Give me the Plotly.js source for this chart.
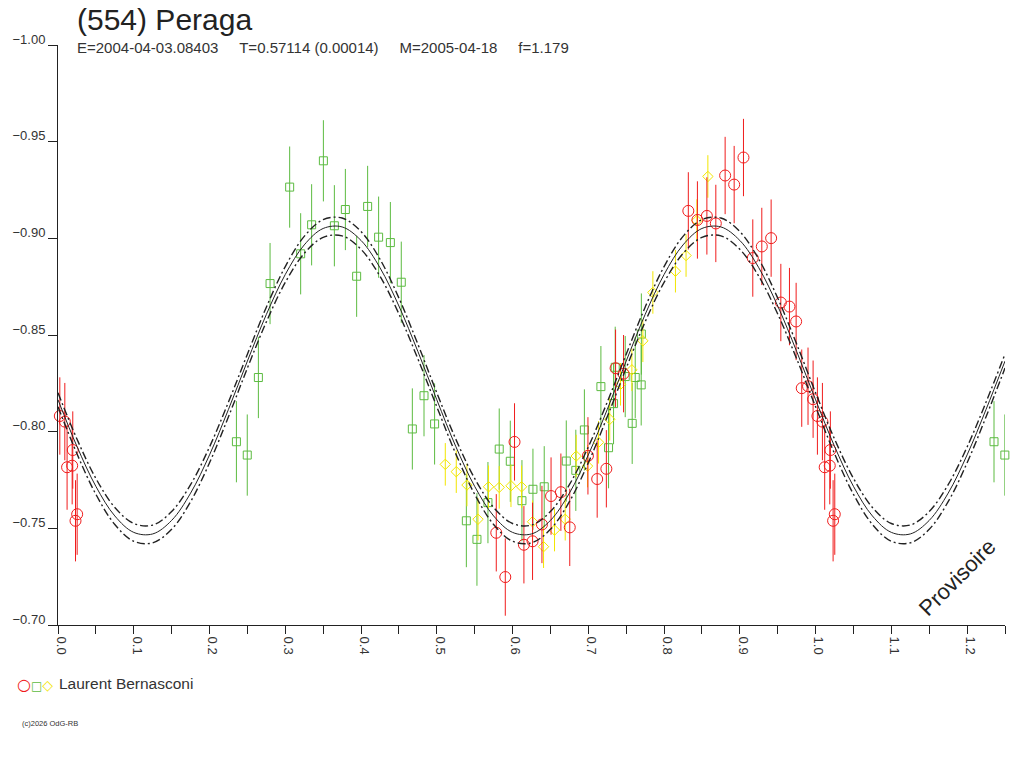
<!DOCTYPE html>
<html>
<head>
<meta charset="utf-8">
<script src="https://cdn.plot.ly/plotly-3.0.1.min.js"></script>
<style>
  html, body { margin: 0; padding: 0; background: #fff; }
  #chart { width: 1024px; height: 768px; }
</style>
</head>
<body>
<div id="chart"></div>
<script>
const redPhase = [0.0024, 0.0090, 0.0120, 0.0187, 0.0195, 0.0231, 0.0253,
  0.5785, 0.5904, 0.6026, 0.6150, 0.6264, 0.6388, 0.6508, 0.6638, 0.6755,
  0.6995, 0.7117, 0.7238, 0.7360, 0.7465, 0.8320, 0.8440, 0.8565, 0.8683,
  0.8806, 0.8925, 0.9048, 0.9171, 0.9290, 0.9413, 0.9541, 0.9655, 0.9743,
  0.9817, 0.9900, 0.9967];
const redMag = [-0.8081, -0.8052, -0.7816, -0.7824, -0.7905, -0.7539, -0.7573,
  -0.7477, -0.7248, -0.7947, -0.7415, -0.7433, -0.7520, -0.7667, -0.7687, -0.7505,
  -0.7875, -0.7755, -0.7808, -0.8328, -0.8300, -0.9142, -0.9095, -0.9116, -0.9077,
  -0.9325, -0.9278, -0.9418, -0.8898, -0.8958, -0.9001, -0.8668, -0.8647, -0.8570,
  -0.8225, -0.8235, -0.8168];
const redErr = [0.020, 0.020, 0.022, 0.020, 0.020, 0.021, 0.021,
  0.020, 0.020, 0.020, 0.020, 0.020, 0.020, 0.020, 0.020, 0.020,
  0.020, 0.020, 0.020, 0.020, 0.020, 0.020, 0.020, 0.020, 0.020,
  0.020, 0.020, 0.020, 0.020, 0.020, 0.020, 0.020, 0.020, 0.020,
  0.020, 0.020, 0.020];

const greenPhase = [0.2355, 0.2498, 0.2645, 0.2799, 0.3058, 0.3203, 0.3348,
  0.3503, 0.3648, 0.3793, 0.3942, 0.4087, 0.4232, 0.4387, 0.4531, 0.4677,
  0.4831, 0.4971, 0.5390, 0.5530, 0.5675, 0.5824, 0.5970, 0.6124, 0.6269,
  0.6418, 0.6709, 0.6835, 0.6948, 0.7166, 0.7267, 0.7333, 0.7355, 0.7487,
  0.7579, 0.7619, 0.7698, 0.7700];
const greenMag = [-0.7948, -0.7879, -0.8280, -0.8766, -0.9265, -0.8920, -0.9070,
  -0.9401, -0.9065, -0.9149, -0.8804, -0.9165, -0.9006, -0.8978, -0.8773, -0.8014,
  -0.8186, -0.8040, -0.7539, -0.7443, -0.7633, -0.7910, -0.7847, -0.7643, -0.7702,
  -0.7715, -0.7848, -0.7800, -0.8009, -0.8233, -0.7917, -0.8145, -0.8333, -0.8285,
  -0.8043, -0.8280, -0.8242, -0.8505];
const greenErr = [0.021, 0.021, 0.021, 0.021, 0.021, 0.021, 0.021,
  0.021, 0.021, 0.021, 0.021, 0.021, 0.021, 0.021, 0.021, 0.021,
  0.021, 0.021, 0.024, 0.024, 0.021, 0.021, 0.021, 0.021, 0.021,
  0.021, 0.021, 0.021, 0.021, 0.021, 0.021, 0.021, 0.021, 0.021,
  0.021, 0.021, 0.021, 0.021];

const yellowPhase = [0.5112, 0.5257, 0.5398, 0.5544, 0.5683, 0.5824, 0.5979,
  0.6119, 0.6264, 0.6409, 0.6554, 0.6695, 0.6840, 0.6990, 0.7135, 0.7283,
  0.7425, 0.7575, 0.7720, 0.7852, 0.8150, 0.8290, 0.8433, 0.8578];
const yellowMag = [-0.7831, -0.7793, -0.7724, -0.7547, -0.7715, -0.7712, -0.7720,
  -0.7715, -0.7534, -0.7405, -0.7491, -0.7547, -0.7874, -0.7822, -0.7945, -0.8064,
  -0.8245, -0.8320, -0.8470, -0.8720, -0.8830, -0.8911, -0.9092, -0.9320];
const yellowErr = [0.011, 0.011, 0.011, 0.011, 0.011, 0.011, 0.011,
  0.011, 0.011, 0.011, 0.011, 0.011, 0.011, 0.011, 0.011, 0.011,
  0.011, 0.011, 0.011, 0.011, 0.011, 0.011, 0.011, 0.011];

// Fitted light curve and its envelope, read at 0.025 steps
const curvePhase = [0, 0.025, 0.05, 0.075, 0.1, 0.125, 0.15, 0.175, 0.2, 0.225,
  0.25, 0.275, 0.3, 0.325, 0.35, 0.375, 0.4, 0.425, 0.45, 0.475,
  0.5, 0.525, 0.55, 0.575, 0.6, 0.625, 0.65, 0.675, 0.7, 0.725,
  0.75, 0.775, 0.8, 0.825, 0.85, 0.875, 0.9, 0.925, 0.95, 0.975,
  1.0, 1.025, 1.05, 1.075, 1.1, 1.125, 1.15, 1.175, 1.2, 1.225, 1.25];
const curveMid = [-0.8165, -0.7924, -0.7717, -0.7564, -0.7479, -0.7471, -0.7541, -0.7682, -0.7880, -0.8115,
  -0.8365, -0.8606, -0.8813, -0.8966, -0.9051, -0.9059, -0.8989, -0.8848, -0.8650, -0.8415,
  -0.8165, -0.7924, -0.7717, -0.7564, -0.7479, -0.7471, -0.7541, -0.7682, -0.7880, -0.8115,
  -0.8365, -0.8606, -0.8813, -0.8966, -0.9051, -0.9059, -0.8989, -0.8848, -0.8650, -0.8415,
  -0.8165, -0.7924, -0.7717, -0.7564, -0.7479, -0.7471, -0.7541, -0.7682, -0.7880, -0.8115, -0.8365];
const curveUpper = [-0.8201, -0.7962, -0.7758, -0.7608, -0.7525, -0.7517, -0.7587, -0.7726, -0.7921, -0.8153,
  -0.8401, -0.8644, -0.8854, -0.9010, -0.9097, -0.9105, -0.9035, -0.8892, -0.8691, -0.8453,
  -0.8201, -0.7962, -0.7758, -0.7608, -0.7525, -0.7517, -0.7587, -0.7726, -0.7921, -0.8153,
  -0.8401, -0.8644, -0.8854, -0.9010, -0.9097, -0.9105, -0.9035, -0.8892, -0.8691, -0.8453,
  -0.8201, -0.7962, -0.7758, -0.7608, -0.7525, -0.7517, -0.7587, -0.7726, -0.7921, -0.8153, -0.8401];
const curveLower = [-0.8129, -0.7886, -0.7676, -0.7520, -0.7433, -0.7425, -0.7495, -0.7638, -0.7839, -0.8077,
  -0.8329, -0.8568, -0.8772, -0.8922, -0.9005, -0.9013, -0.8943, -0.8804, -0.8609, -0.8377,
  -0.8129, -0.7886, -0.7676, -0.7520, -0.7433, -0.7425, -0.7495, -0.7638, -0.7839, -0.8077,
  -0.8329, -0.8568, -0.8772, -0.8922, -0.9005, -0.9013, -0.8943, -0.8804, -0.8609, -0.8377,
  -0.8129, -0.7886, -0.7676, -0.7520, -0.7433, -0.7425, -0.7495, -0.7638, -0.7839, -0.8077, -0.8329];

const xTicks = [0, 0.1, 0.2, 0.3, 0.4, 0.5, 0.6, 0.7, 0.8, 0.9, 1.0, 1.1, 1.2];
const yTicks = [-1.00, -0.95, -0.90, -0.85, -0.80, -0.75, -0.70];

const RED = '#f01c1c';
const GREEN = '#5cbb40';
const YELLOW = '#f2e600';
const INK = '#222222';
const FONT = 'Liberation Sans, Arial, sans-serif';

// phases below 0.25 are drawn again one cycle later
function withRepeat(phase, mag, err) {
  const x = phase.slice(), y = mag.slice(), e = err.slice();
  phase.forEach((p, i) => {
    if (p <= 0.25) {
      x.push(p + 1);
      y.push(mag[i]);
      e.push(err[i]);
    }
  });
  return {x, y, e};
}

function obsTrace(phase, mag, err, color, symbol, size) {
  const d = withRepeat(phase, mag, err);
  return {
    x: d.x, y: d.y, type: 'scatter', mode: 'markers',
    marker: {symbol: symbol, size: size, color: color, line: {width: 1, color: color}},
    error_y: {type: 'data', array: d.e, visible: true, width: 0, thickness: 1, color: color},
    cliponaxis: false, hoverinfo: 'skip'
  };
}

function curveTrace(y, dash, width) {
  return {
    x: curvePhase, y: y, type: 'scatter', mode: 'lines',
    line: {color: INK, width: width, dash: dash, shape: 'spline', smoothing: 1},
    hoverinfo: 'skip'
  };
}

const traces = [
  obsTrace(greenPhase, greenMag, greenErr, GREEN, 'square-open', 8),
  obsTrace(yellowPhase, yellowMag, yellowErr, YELLOW, 'diamond-open', 8),
  obsTrace(redPhase, redMag, redErr, RED, 'circle-open', 11),
  curveTrace(curveUpper, '8px,3px,2px,3px', 1.4),
  curveTrace(curveLower, '8px,3px,2px,3px', 1.4),
  curveTrace(curveMid, 'solid', 1)
];

// plot area in pixels: x 58..1005, y 45..625
function pos(px, py) {
  return {xref: 'paper', yref: 'paper', x: (px - 58) / 947, y: (625 - py) / 580};
}

const gap = '&nbsp;&nbsp;&nbsp;&nbsp;&nbsp;';
const annotations = [
  Object.assign(pos(75, 20), {text: '(554) Peraga', showarrow: false, xanchor: 'left', yanchor: 'middle',
    font: {family: FONT, size: 30, color: INK}}),
  Object.assign(pos(75, 48), {text: 'E=2004-04-03.08403' + gap + 'T=0.57114 (0.00014)' + gap + 'M=2005-04-18' + gap + 'f=1.179',
    showarrow: false, xanchor: 'left', yanchor: 'middle', font: {family: FONT, size: 15, color: '#333'}}),
  Object.assign(pos(15, 684), {text: '<span style="color:' + RED + ';font-size:16px">○</span><span style="color:' + GREEN + ';font-size:12px">□</span><span style="color:' + YELLOW + ';font-size:14px">◇</span>',
    showarrow: false, xanchor: 'left', yanchor: 'middle', font: {family: 'DejaVu Sans', size: 14}}),
  Object.assign(pos(57, 683), {text: 'Laurent Bernasconi', showarrow: false, xanchor: 'left', yanchor: 'middle',
    font: {family: FONT, size: 15.5, color: '#333'}}),
  Object.assign(pos(20, 723), {text: '(c)2026 OdG-RB', showarrow: false, xanchor: 'left', yanchor: 'middle',
    font: {family: FONT, size: 7.5, color: '#333'}}),
  Object.assign(pos(957, 577), {text: 'Provisoire', showarrow: false, textangle: -45, xanchor: 'center', yanchor: 'middle',
    font: {family: FONT, size: 22, color: INK}})
];

const layout = {
  width: 1024, height: 768,
  margin: {l: 58, r: 19, t: 45, b: 143, pad: 0},
  paper_bgcolor: '#fff', plot_bgcolor: '#fff',
  showlegend: false,
  font: {family: FONT, color: '#333'},
  xaxis: {
    range: [0, 1.25], showgrid: false, zeroline: false,
    showline: true, linecolor: INK, linewidth: 1,
    ticks: 'outside', ticklen: 8, tickcolor: INK, tickwidth: 1,
    tickvals: xTicks, tickformat: '.1f', tickangle: 90, ticklabelshift: 3,
    tickfont: {family: FONT, size: 13, color: '#333'},
    minor: {tickvals: [0.05, 0.15, 0.25, 0.35, 0.45, 0.55, 0.65, 0.75, 0.85, 0.95, 1.05, 1.15, 1.25],
      ticks: 'outside', ticklen: 8, tickcolor: INK, tickwidth: 1, showgrid: false}
  },
  yaxis: {
    range: [-0.70, -1.00], showgrid: false, zeroline: false,
    showline: true, linecolor: INK, linewidth: 1,
    ticks: 'outside', ticklen: 9, tickcolor: INK, tickwidth: 1,
    tickvals: yTicks, tickformat: '.2f', ticklabelshift: 6,
    tickfont: {family: FONT, size: 13, color: '#333'}
  },
  annotations: annotations
};

Plotly.newPlot('chart', traces, layout, {staticPlot: true});
</script>
</body>
</html>
